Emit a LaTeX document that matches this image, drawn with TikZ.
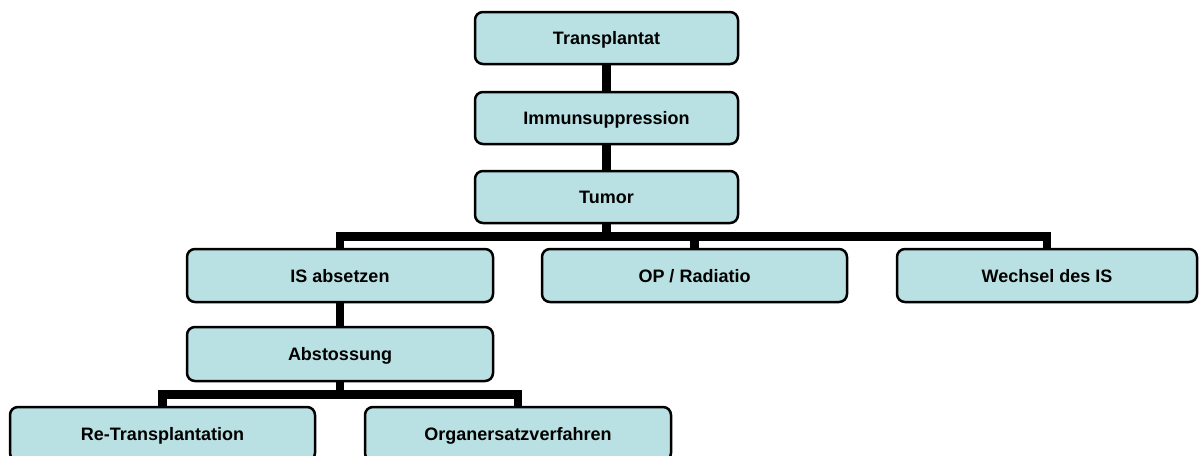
\documentclass[tikz,border=0pt]{standalone}
\usepackage{fontspec}
\setmainfont{Liberation Sans}
\usetikzlibrary{backgrounds}
\definecolor{boxfill}{RGB}{185,224,226}
\tikzset{
  box/.style={draw=black, line width=2.5pt, fill=boxfill, rounded corners=8pt,
    minimum height=52pt, inner sep=0pt, text height=13pt, text depth=0pt,
    font=\fontsize{18}{20}\selectfont\bfseries},
  conn/.style={draw=black, line width=8.5pt, line join=miter}
}
\begin{document}
\begin{tikzpicture}[x=1pt,y=-1pt]
\clip (0,0) rectangle (1199,455);
\node[box, minimum width=263pt] (trans) at (606.5,38) {Transplantat};
\node[box, minimum width=263pt] (immun) at (606.5,118) {Immunsuppression};
\node[box, minimum width=263pt] (tumor) at (606.5,197) {Tumor};
\node[box, minimum width=306pt, minimum height=53pt] (isab) at (340,275.5) {IS absetzen};
\node[box, minimum width=305pt, minimum height=53pt] (op) at (694.5,275.5) {OP / Radiatio};
\node[box, minimum width=300pt, minimum height=53pt] (wech) at (1047,275.5) {Wechsel des IS};
\node[box, minimum width=306pt, minimum height=54pt] (abst) at (340,354) {Abstossung};
\node[box, minimum width=305pt, minimum height=54pt] (retr) at (162.5,434) {Re-Transplantation};
\node[box, minimum width=306pt, minimum height=54pt] (organ) at (518,434) {Organersatzverfahren};
\coordinate (bar1) at (0,236.5);
\coordinate (bar2) at (0,394.5);
\begin{scope}[on background layer]
\draw[conn] (trans.south) -- (immun.north);
\draw[conn] (immun.south) -- (tumor.north);
\draw[conn] (tumor.south) -- (tumor.south |- bar1) -| (isab.north);
\draw[conn] (tumor.south) -- (tumor.south |- bar1) -| (op.north);
\draw[conn] (tumor.south) -- (tumor.south |- bar1) -| (wech.north);
\draw[conn] (isab.south) -- (abst.north);
\draw[conn] (abst.south) -- (abst.south |- bar2) -| (retr.north);
\draw[conn] (abst.south) -- (abst.south |- bar2) -| (organ.north);
\end{scope}
\end{tikzpicture}
\end{document}
